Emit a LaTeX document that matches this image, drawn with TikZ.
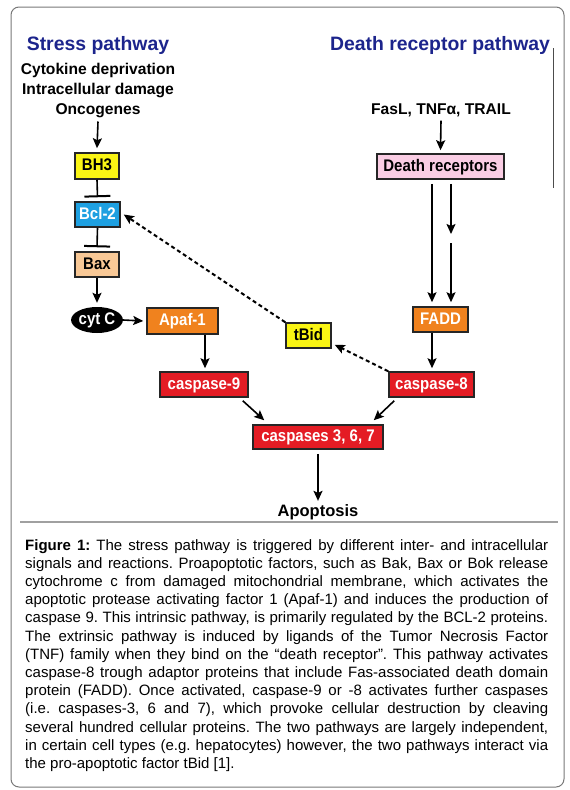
\documentclass[tikz,border=0pt]{standalone}
\usepackage{fontspec}
\usepackage{graphicx}
\setmainfont{Liberation Sans}
\usetikzlibrary{arrows.meta,shapes.geometric,calc}
\definecolor{navyt}{RGB}{28,36,140}
\definecolor{ybox}{RGB}{250,245,20}
\definecolor{bbox}{RGB}{30,160,225}
\definecolor{pbox}{RGB}{248,200,150}
\definecolor{obox}{RGB}{240,130,30}
\definecolor{kbox}{RGB}{250,205,228}
\definecolor{rbox}{RGB}{228,28,36}
\definecolor{frame}{RGB}{120,120,120}
\newcommand\tallt[1]{\scalebox{1}[1.12]{#1}}
\tikzset{
  title/.style={font=\bfseries\fontsize{19.4}{20}\selectfont, text=navyt, inner sep=0pt, anchor=base},
  lab/.style={font=\bfseries\fontsize{15.6}{16}\selectfont, inner sep=0pt, anchor=base},
  gbox/.style={draw=black!85, line width=1.5pt, inner sep=0pt, minimum height=25pt,
    font=\bfseries\fontsize{15}{15}\selectfont, text height=12pt, text depth=3pt},
  wtext/.style={text=white},
  arr/.style={line width=1.6pt, -{Stealth[length=10pt,width=9pt,inset=2pt]}},
  inhib/.style={line width=1.6pt, -{Bar[width=26pt,line width=2pt]}},
  dasharr/.style={line width=2pt, dash pattern=on 4pt off 3pt, -{Stealth[length=10pt,width=9pt,inset=2pt]}},
}
\begin{document}
\begin{tikzpicture}[x=1pt,y=-1pt]
\useasboundingbox (0,0) rectangle (570,790);
% frame
\draw[frame, line width=1pt, rounded corners=8pt] (11,7) rectangle (564,787);
\draw[frame!70, line width=1.2pt] (20,522) -- (558,522);
\draw[black!70, line width=0.8pt] (553,48) -- (553,188);

% titles
\node[title] (st) at (98,50) {Stress pathway};
\node[title] (dt) at (440,50) {Death receptor pathway};

% stress inputs
\node[lab] (c1) at (98,74) {Cytokine deprivation};
\node[lab] (c2) at (98,94) {Intracellular damage};
\node[lab] (c3) at (98,114) {Oncogenes};
\node[lab] (fas) at (441,114) {FasL, TNFα, TRAIL};

% boxes
\node[gbox, fill=ybox, minimum width=44pt, minimum height=26pt] (bh3) at (97,166) {\tallt{BH3}};
\node[gbox, fill=bbox, wtext, minimum width=45pt] (bcl) at (97.5,214.5) {\tallt{Bcl-2}};
\node[gbox, fill=pbox, minimum width=44pt] (bax) at (97,264.5) {\tallt{Bax}};
\node[ellipse, fill=black, text=white, inner sep=0pt, minimum width=50pt, minimum height=26pt,
  text height=12pt, text depth=3pt,
  font=\bfseries\fontsize{15}{15}\selectfont] (cyt) at (97,320) {\tallt{cyt C}};
\node[gbox, fill=obox, wtext, minimum width=71pt, minimum height=26pt] (apaf) at (182.5,321) {\tallt{Apaf-1}};
\node[gbox, fill=kbox, minimum width=127pt] (dr) at (440.5,166.5) {\tallt{Death receptors}};
\node[gbox, fill=obox, wtext, minimum width=55pt] (fadd) at (440.5,319.5) {\tallt{FADD}};
\node[gbox, fill=ybox, minimum width=45pt] (tbid) at (308.5,335.5) {\tallt{tBid}};
\node[gbox, fill=rbox, wtext, minimum width=88pt] (c9) at (204,384.5) {\tallt{caspase-9}};
\node[gbox, fill=rbox, wtext, minimum width=85pt] (c8) at (431.5,384.5) {\tallt{caspase-8}};
\node[gbox, fill=rbox, wtext, minimum width=130pt, minimum height=24pt] (c367) at (318,437) {\tallt{caspases 3, 6, 7}};
\node[font=\bfseries\fontsize{16.5}{17}\selectfont, inner sep=0pt, anchor=base] (apop) at (318,516) {Apoptosis};

% stress pathway connectors
\draw[arr] ([yshift=-4pt]c3.south) -- ([yshift=4pt]bh3.north);
\draw[inhib] (bh3.south) -- ([yshift=4pt]bcl.north);
\draw[inhib] (bcl.south) -- ([yshift=4pt]bax.north);
\draw[arr] (bax.south) -- ([yshift=4pt]cyt.north);
\draw[arr] (cyt.east) -- ([xshift=-3pt]apaf.west);
\draw[arr] ([xshift=22.5pt]apaf.south) -- ([xshift=1pt,yshift=3pt]c9.north);

% death receptor connectors
\draw[arr] ([yshift=-4pt]fas.south) -- ([yshift=3pt]dr.north);
\coordinate (m1) at (451,234);
\coordinate (m2) at (451,243);
\draw[arr] ([xshift=-8.5pt,yshift=-4pt]dr.south) -- ([xshift=-8.5pt,yshift=4pt]fadd.north);
\draw[arr] ([xshift=10.5pt,yshift=-4pt]dr.south) -- (m1);
\draw[arr] (m2) -- ([xshift=10.5pt,yshift=4pt]fadd.north);
\draw[arr] ([xshift=0.5pt]c8.north |- fadd.south) -- ([xshift=0.5pt,yshift=3pt]c8.north);

% convergence
\draw[arr] ([xshift=-6pt,yshift=-3pt]c9.south east) -- ([xshift=12pt,yshift=4pt]c367.north west);
\draw[arr] ([xshift=6pt,yshift=-3pt]c8.south west) -- ([xshift=-10pt,yshift=4pt]c367.north east);
\draw[arr] ([yshift=-4pt]c367.south) -- ([yshift=3pt]apop.north);

% tBid crosstalk
\draw[dasharr] (c8.north west) -- ([xshift=3pt,yshift=4pt]tbid.south east);
\draw[dasharr] (tbid.north west) -- ([xshift=3pt]bcl.east);

% caption
\node[anchor=base west, inner sep=0pt, text width=523pt, align=justify,
  font=\fontsize{15}{18.2}\selectfont] (cap) at (25,550) {%
\hyphenpenalty=10000 \exhyphenpenalty=10000 \frenchspacing \tolerance=10000 \noindent
\textbf{Figure 1:} The stress pathway is triggered by different inter- and intracellular\linebreak
signals and reactions. Proapoptotic factors, such as Bak, Bax or Bok release\linebreak
cytochrome c from damaged mitochondrial membrane, which activates the\linebreak
apoptotic protease activating factor 1 (Apaf-1) and induces the production of\linebreak
caspase 9. This intrinsic pathway, is primarily regulated by the BCL-2 proteins.\linebreak
The extrinsic pathway is induced by ligands of the Tumor Necrosis Factor\linebreak
(TNF) family when they bind on the “death receptor”. This pathway activates\linebreak
caspase-8 trough adaptor proteins that include Fas-associated death domain\linebreak
protein (FADD). Once activated, caspase-9 or -8 activates further caspases\linebreak
(i.e. caspases-3, 6 and 7), which provoke cellular destruction by cleaving\linebreak
several hundred cellular proteins. The two pathways are largely independent,\linebreak
in certain cell types (e.g. hepatocytes) however, the two pathways interact via\linebreak
the pro-apoptotic factor tBid [1].};
\end{tikzpicture}
\end{document}
